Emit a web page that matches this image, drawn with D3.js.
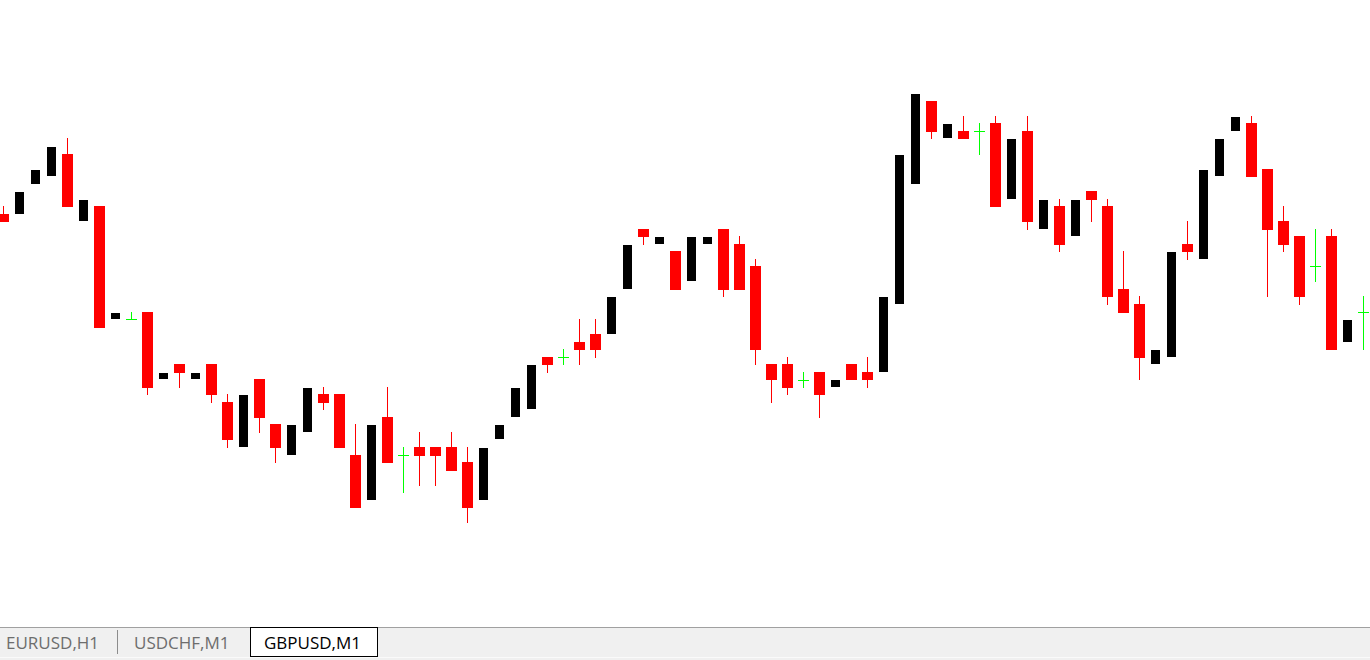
<!DOCTYPE html>
<html>
<head>
<meta charset="utf-8">
<script src="https://cdn.jsdelivr.net/npm/d3@7"></script>
<style>
  html, body { margin: 0; padding: 0; background: #fff; overflow: hidden; }
  svg { display: block; }
</style>
</head>
<body>
<svg id="chart" width="1370" height="660"></svg>
<script>
// GBPUSD M1 bars, oldest first
const openPrices = [
  1.26786, 1.26786, 1.26816, 1.26824, 1.26846, 1.26779, 1.26794, 1.26681, 1.26681, 1.26688,
  1.26621, 1.26636, 1.26621, 1.26636, 1.26598, 1.26553, 1.26621, 1.26576, 1.26545, 1.26568,
  1.26606, 1.26606, 1.26545, 1.26500, 1.26583, 1.26545, 1.26553, 1.26553, 1.26553, 1.26538,
  1.26500, 1.26561, 1.26583, 1.26591, 1.26643, 1.26643, 1.26658, 1.26666, 1.26666, 1.26711,
  1.26771, 1.26756, 1.26749, 1.26719, 1.26756, 1.26771, 1.26756, 1.26734, 1.26636, 1.26636,
  1.26620, 1.26628, 1.26613, 1.26636, 1.26628, 1.26628, 1.26696, 1.26816, 1.26899, 1.26862,
  1.26869, 1.26869, 1.26877, 1.26801, 1.26869, 1.26771, 1.26794, 1.26764, 1.26809, 1.26794,
  1.26711, 1.26696, 1.26636, 1.26643, 1.26756, 1.26741, 1.26824, 1.26869, 1.26877, 1.26831,
  1.26779, 1.26764, 1.26734, 1.26764, 1.26658, 1.26688
];
const highPrices = [
  1.26794, 1.26808, 1.26830, 1.26853, 1.26862, 1.26800, 1.26794, 1.26687, 1.26688, 1.26688,
  1.26627, 1.26636, 1.26627, 1.26636, 1.26606, 1.26605, 1.26621, 1.26576, 1.26575, 1.26612,
  1.26613, 1.26606, 1.26576, 1.26575, 1.26613, 1.26553, 1.26568, 1.26553, 1.26568, 1.26553,
  1.26552, 1.26575, 1.26612, 1.26635, 1.26643, 1.26651, 1.26681, 1.26681, 1.26703, 1.26755,
  1.26771, 1.26763, 1.26749, 1.26763, 1.26763, 1.26771, 1.26764, 1.26741, 1.26636, 1.26643,
  1.26628, 1.26628, 1.26620, 1.26636, 1.26643, 1.26703, 1.26845, 1.26906, 1.26899, 1.26876,
  1.26884, 1.26877, 1.26884, 1.26861, 1.26884, 1.26800, 1.26801, 1.26800, 1.26809, 1.26801,
  1.26749, 1.26704, 1.26650, 1.26748, 1.26779, 1.26830, 1.26861, 1.26883, 1.26884, 1.26831,
  1.26794, 1.26764, 1.26771, 1.26771, 1.26680, 1.26704
];
const lowPrices = [
  1.26778, 1.26786, 1.26816, 1.26824, 1.26793, 1.26779, 1.26672, 1.26681, 1.26681, 1.26605,
  1.26621, 1.26612, 1.26621, 1.26597, 1.26552, 1.26553, 1.26567, 1.26537, 1.26545, 1.26568,
  1.26590, 1.26552, 1.26492, 1.26500, 1.26537, 1.26507, 1.26514, 1.26514, 1.26529, 1.26477,
  1.26500, 1.26561, 1.26583, 1.26591, 1.26627, 1.26635, 1.26635, 1.26642, 1.26666, 1.26711,
  1.26755, 1.26756, 1.26710, 1.26719, 1.26756, 1.26703, 1.26710, 1.26635, 1.26597, 1.26605,
  1.26612, 1.26582, 1.26613, 1.26620, 1.26612, 1.26628, 1.26696, 1.26816, 1.26861, 1.26862,
  1.26861, 1.26845, 1.26793, 1.26801, 1.26770, 1.26771, 1.26748, 1.26764, 1.26778, 1.26695,
  1.26687, 1.26620, 1.26636, 1.26643, 1.26740, 1.26741, 1.26824, 1.26869, 1.26823, 1.26703,
  1.26748, 1.26695, 1.26718, 1.26650, 1.26658, 1.26650
];
const closePrices = [
  1.26778, 1.26808, 1.26830, 1.26853, 1.26793, 1.26800, 1.26672, 1.26687, 1.26681, 1.26612,
  1.26627, 1.26627, 1.26627, 1.26605, 1.26560, 1.26605, 1.26582, 1.26552, 1.26575, 1.26612,
  1.26597, 1.26552, 1.26492, 1.26575, 1.26537, 1.26545, 1.26544, 1.26544, 1.26529, 1.26492,
  1.26552, 1.26575, 1.26612, 1.26635, 1.26635, 1.26643, 1.26650, 1.26650, 1.26703, 1.26755,
  1.26763, 1.26763, 1.26710, 1.26763, 1.26763, 1.26710, 1.26710, 1.26650, 1.26620, 1.26612,
  1.26620, 1.26605, 1.26620, 1.26620, 1.26620, 1.26703, 1.26845, 1.26906, 1.26868, 1.26876,
  1.26861, 1.26869, 1.26793, 1.26861, 1.26778, 1.26800, 1.26755, 1.26800, 1.26800, 1.26703,
  1.26687, 1.26642, 1.26650, 1.26748, 1.26748, 1.26830, 1.26861, 1.26883, 1.26823, 1.26770,
  1.26755, 1.26703, 1.26734, 1.26650, 1.26680, 1.26688
];

// chart tabs along the bottom, last one is the active chart
const tabLabels = ["EURUSD,H1", "USDCHF,M1", "GBPUSD,M1"];
const activeTab = 2;

const width = 1370;
const height = 660;
const chartHeight = 627;

const bearColor = "#ff0000";
const bullColor = "#000000";
const dojiColor = "#00ff00";

const bars = openPrices.map((o, i) => ({
  i: i,
  open: o,
  high: highPrices[i],
  low: lowPrices[i],
  close: closePrices[i]
}));

const svg = d3.select("#chart");

// create scales
const xScale = d3.scaleBand()
  .domain(d3.range(bars.length))
  .range([-4.5, -4.5 + bars.length * 16]);

const yScale = d3.scaleLinear()
  .domain([1.27000, 1.26370])
  .range([0, 630]);

const cx = d => xScale(d.i) + xScale.bandwidth() / 2;
const py = v => Math.round(yScale(v));

const candleColor = d => d.close > d.open ? bullColor : (d.close < d.open ? bearColor : dojiColor);

const candles = svg.append("g")
  .attr("class", "candles")
  .selectAll("g")
  .data(bars)
  .join("g");

// wicks
candles.append("line")
  .attr("x1", cx)
  .attr("x2", cx)
  .attr("y1", d => py(d.high))
  .attr("y2", d => py(d.low))
  .attr("stroke", candleColor)
  .attr("stroke-width", 1)
  .attr("shape-rendering", "crispEdges");

// bodies (dojis get a horizontal tick instead)
candles.filter(d => d.open !== d.close)
  .append("rect")
  .attr("x", d => d.close > d.open ? cx(d) - 4.5 : cx(d) - 5.5)
  .attr("width", d => d.close > d.open ? 9 : 11)
  .attr("y", d => py(Math.max(d.open, d.close)))
  .attr("height", d => Math.max(1, py(Math.min(d.open, d.close)) - py(Math.max(d.open, d.close))))
  .attr("fill", candleColor)
  .attr("shape-rendering", "crispEdges");

candles.filter(d => d.open === d.close)
  .append("line")
  .attr("x1", d => cx(d) - 5.5)
  .attr("x2", d => cx(d) + 5.5)
  .attr("y1", d => py(d.open) + 0.5)
  .attr("y2", d => py(d.open) + 0.5)
  .attr("stroke", dojiColor)
  .attr("stroke-width", 1)
  .attr("shape-rendering", "crispEdges");

// tab bar
const tabBar = svg.append("g").attr("class", "tabs");

tabBar.append("rect")
  .attr("x", 0)
  .attr("y", chartHeight)
  .attr("width", width)
  .attr("height", height - chartHeight)
  .attr("fill", "#f0f0f0");

tabBar.append("line")
  .attr("x1", 0).attr("x2", width)
  .attr("y1", chartHeight + 0.5).attr("y2", chartHeight + 0.5)
  .attr("stroke", "#a0a0a0");

tabBar.append("line")
  .attr("x1", 0).attr("x2", width)
  .attr("y1", height - 2.5).attr("y2", height - 2.5)
  .attr("stroke", "#fafafa");

const tabStarts = [0, 118, 250];
const tabEnds = [118, 250, 378];
const textX = [6, 134, 264];

tabBar.append("rect")
  .attr("x", tabStarts[activeTab] + 0.5)
  .attr("y", chartHeight + 0.5)
  .attr("width", tabEnds[activeTab] - tabStarts[activeTab] - 1)
  .attr("height", 29)
  .attr("fill", "#ffffff")
  .attr("stroke", "#000000");

tabBar.append("line")
  .attr("x1", 117.5).attr("x2", 117.5)
  .attr("y1", 630).attr("y2", 654)
  .attr("stroke", "#8c8c8c");

tabBar.selectAll("text")
  .data(tabLabels)
  .join("text")
  .attr("x", (d, i) => textX[i])
  .attr("y", 649)
  .attr("font-family", "'Open Sans', 'Noto Sans', sans-serif")
  .attr("font-size", 17)
  .attr("fill", (d, i) => i === activeTab ? "#000000" : "#6d6d6d")
  .text(d => d);
</script>
</body>
</html>
